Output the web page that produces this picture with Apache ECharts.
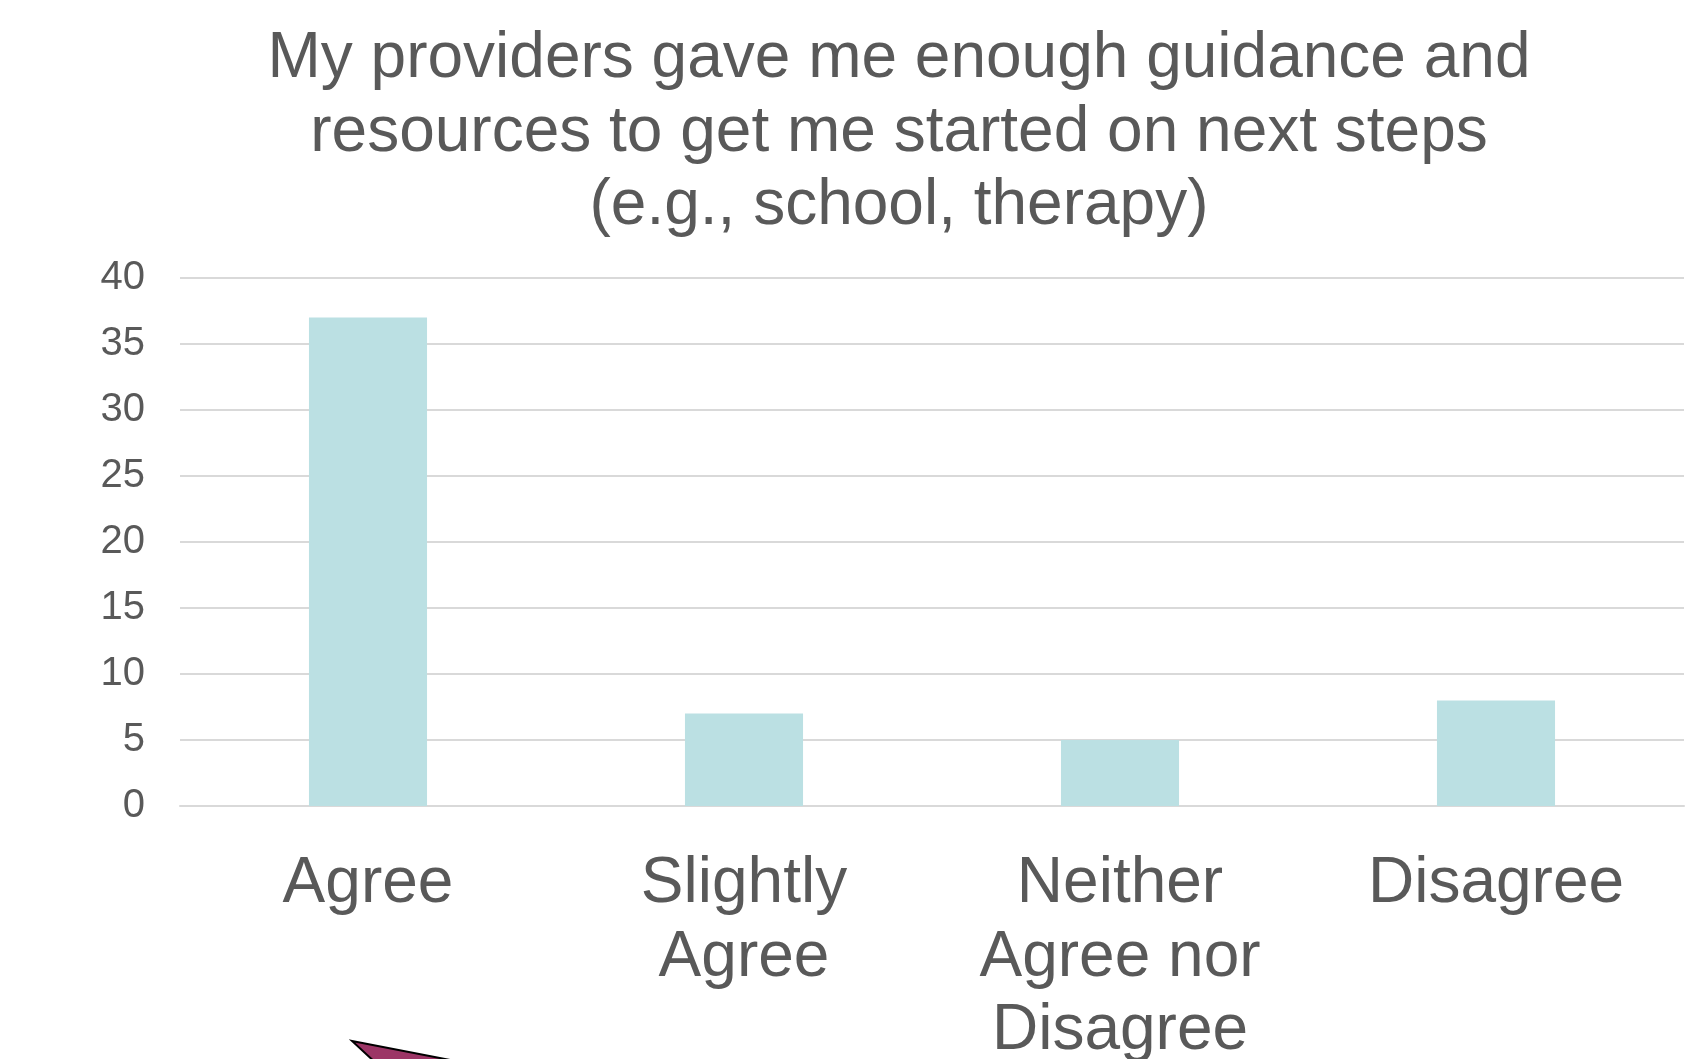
<!DOCTYPE html>
<html>
<head>
<meta charset="utf-8">
<script src="https://cdn.jsdelivr.net/npm/echarts@6/dist/echarts.min.js"></script>
<style>
  html, body { margin: 0; padding: 0; background: #ffffff; }
  #chart { width: 1690px; height: 1059px; }
</style>
</head>
<body>
<div id="chart"></div>
<script>
// Survey responses
const categories = ['Agree', 'Slightly\nAgree', 'Neither\nAgree nor\nDisagree', 'Disagree'];
const responses = [37, 7, 5, 8];
const yTicks = [0, 5, 10, 15, 20, 25, 30, 35, 40];

const titleText = 'My providers gave me enough guidance and\nresources to get me started on next steps\n(e.g., school, therapy)';

const FONT = '"Liberation Sans", Arial, sans-serif';
const TEXT = '#595959';

const chart = echarts.init(document.getElementById('chart'), null, { renderer: 'canvas' });

chart.setOption({
  backgroundColor: '#ffffff',
  animation: false,
  title: {
    text: titleText,
    left: 899,
    top: 23,
    padding: 0,
    textAlign: 'center',
    textStyle: {
      fontFamily: FONT,
      fontSize: 64,
      fontWeight: 'normal',
      lineHeight: 73.5,
      color: TEXT
    }
  },
  grid: {
    left: 180, right: 6, top: 278, bottom: 253,
    containLabel: false,
    outerBoundsMode: 'none'
  },
  xAxis: {
    type: 'category',
    data: categories,
    axisLine: { show: true, lineStyle: { color: '#d9d9d9', width: 2 } },
    axisTick: { show: false },
    axisLabel: {
      interval: 0,
      margin: 42,
      fontFamily: FONT,
      fontSize: 64,
      lineHeight: 73.5,
      color: TEXT,
      align: 'center',
      verticalAlign: 'top'
    }
  },
  yAxis: {
    type: 'value',
    min: yTicks[0],
    max: yTicks[yTicks.length - 1],
    interval: yTicks[1] - yTicks[0],
    axisLine: { show: false },
    axisTick: { show: false },
    splitLine: { lineStyle: { color: '#d9d9d9', width: 2 } },
    axisLabel: {
      margin: 35,
      fontFamily: FONT,
      fontSize: 40,
      color: TEXT
    }
  },
  series: [{
    type: 'bar',
    data: responses,
    barWidth: '31.4%',
    itemStyle: { color: '#bbe0e3' }
  }],
  graphic: [{
    // arrow tip entering from the bottom edge
    type: 'polygon',
    z: 100,
    shape: { points: [[352, 1041], [476, 1065], [378, 1065]] },
    style: { fill: '#9c3566', stroke: '#000000', lineWidth: 2 }
  }]
});
</script>
</body>
</html>
